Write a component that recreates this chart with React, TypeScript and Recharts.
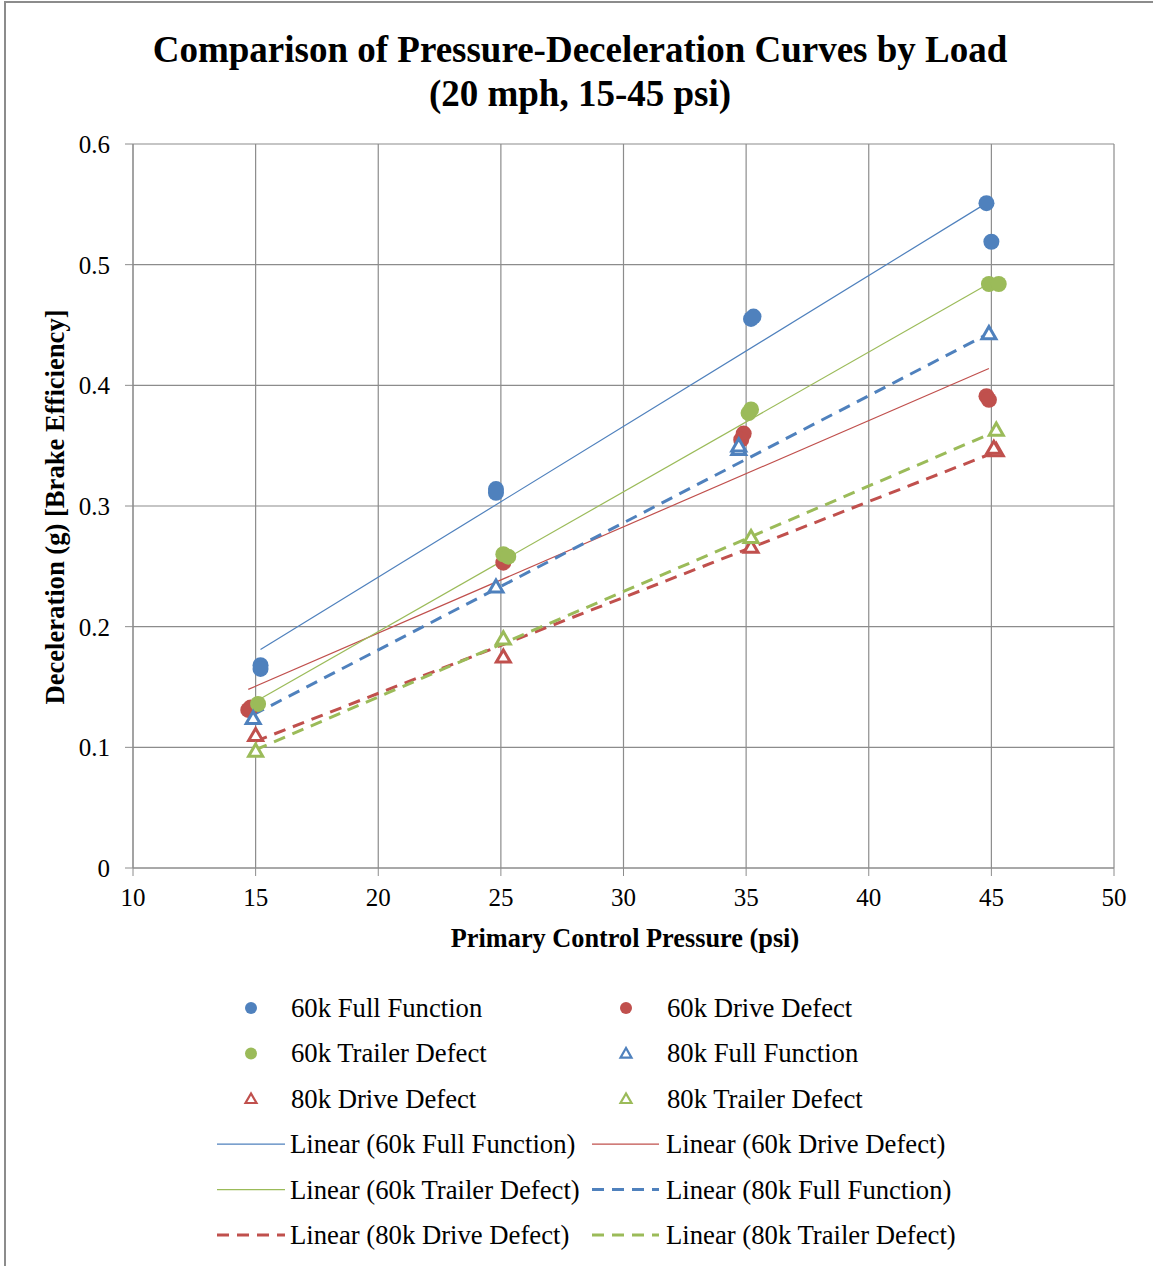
import React from 'react';
import { ScatterChart, Scatter, XAxis, YAxis, CartesianGrid } from 'recharts';

const BLUE = '#4F81BD';
const RED = '#C0504D';
const GREEN = '#9BBB59';
const GRID = '#8c8c8c';
const FONT = '"Liberation Serif", "Times New Roman", serif';

const xTicks = [10, 15, 20, 25, 30, 35, 40, 45, 50];
const yTicks = [0, 0.1, 0.2, 0.3, 0.4, 0.5, 0.6];

// measured points (psi, g)
const fullFunction60k = [
  { x: 15.2, y: 0.168 }, { x: 15.2, y: 0.165 },
  { x: 24.8, y: 0.314 }, { x: 24.8, y: 0.311 },
  { x: 35.2, y: 0.455 }, { x: 35.3, y: 0.457 },
  { x: 44.8, y: 0.551 }, { x: 45.0, y: 0.519 },
];
const driveDefect60k = [
  { x: 14.7, y: 0.131 }, { x: 14.8, y: 0.133 },
  { x: 25.1, y: 0.253 },
  { x: 34.9, y: 0.360 }, { x: 34.8, y: 0.355 },
  { x: 44.8, y: 0.391 }, { x: 44.9, y: 0.388 },
];
const trailerDefect60k = [
  { x: 15.1, y: 0.136 },
  { x: 25.1, y: 0.260 }, { x: 25.3, y: 0.258 },
  { x: 35.1, y: 0.377 }, { x: 35.2, y: 0.380 },
  { x: 44.9, y: 0.484 }, { x: 45.3, y: 0.484 },
];
const fullFunction80k = [
  { x: 14.9, y: 0.123 },
  { x: 24.8, y: 0.232 },
  { x: 34.7, y: 0.346 }, { x: 34.7, y: 0.349 },
  { x: 44.9, y: 0.442 },
];
const driveDefect80k = [
  { x: 15.0, y: 0.109 },
  { x: 25.1, y: 0.174 },
  { x: 35.2, y: 0.265 },
  { x: 45.2, y: 0.345 }, { x: 45.1, y: 0.347 },
];
const trailerDefect80k = [
  { x: 15.0, y: 0.096 },
  { x: 25.1, y: 0.189 },
  { x: 35.2, y: 0.273 },
  { x: 45.2, y: 0.362 },
];

// trendline end points
const trendFullFunction60k = [{ x: 15.2, y: 0.181 }, { x: 44.8, y: 0.551 }];
const trendDriveDefect60k = [{ x: 14.7, y: 0.148 }, { x: 44.9, y: 0.414 }];
const trendTrailerDefect60k = [{ x: 15.0, y: 0.138 }, { x: 45.3, y: 0.489 }];
const trendFullFunction80k = [{ x: 14.9, y: 0.127 }, { x: 44.9, y: 0.443 }];
const trendDriveDefect80k = [{ x: 15.0, y: 0.105 }, { x: 45.2, y: 0.345 }];
const trendTrailerDefect80k = [{ x: 15.0, y: 0.098 }, { x: 45.2, y: 0.362 }];

const pointSeries = [
  { name: '60k Full Function', data: fullFunction60k, color: BLUE, marker: 'circle' },
  { name: '60k Drive Defect', data: driveDefect60k, color: RED, marker: 'circle' },
  { name: '60k Trailer Defect', data: trailerDefect60k, color: GREEN, marker: 'circle' },
  { name: '80k Full Function', data: fullFunction80k, color: BLUE, marker: 'triangle' },
  { name: '80k Drive Defect', data: driveDefect80k, color: RED, marker: 'triangle' },
  { name: '80k Trailer Defect', data: trailerDefect80k, color: GREEN, marker: 'triangle' },
];

const trendSeries = [
  { name: 'Linear (60k Full Function)', data: trendFullFunction60k, color: BLUE, dashed: false },
  { name: 'Linear (60k Drive Defect)', data: trendDriveDefect60k, color: RED, dashed: false },
  { name: 'Linear (60k Trailer Defect)', data: trendTrailerDefect60k, color: GREEN, dashed: false },
  { name: 'Linear (80k Full Function)', data: trendFullFunction80k, color: BLUE, dashed: true },
  { name: 'Linear (80k Drive Defect)', data: trendDriveDefect80k, color: RED, dashed: true },
  { name: 'Linear (80k Trailer Defect)', data: trendTrailerDefect80k, color: GREEN, dashed: true },
];

const DASH = '12 8';

function trianglePath(cx: number, cy: number, s: number) {
  const h = s * 0.866;
  return `M${cx},${cy - (2 * h) / 3} L${cx - s / 2},${cy + h / 3} L${cx + s / 2},${cy + h / 3} Z`;
}

const makeShape = (color: string, marker: string) => (props: any) => {
  const { cx, cy } = props;
  if (cx == null || cy == null) return <g />;
  if (marker === 'circle') return <circle cx={cx} cy={cy} r={8} fill={color} />;
  return <path d={trianglePath(cx, cy, 14)} fill="#fff" stroke={color} strokeWidth={3} strokeLinejoin="miter" />;
};

const noShape = () => <g />;

function Overlay() {
  const rowY = (r: number) => 1008 + r * 45.4;
  const markerX = [251, 626];
  const textX = [291, 667];
  const lineX = [[217, 285], [592, 659]];
  const items = [
    ...pointSeries.map(s => ({ kind: 'point', ...s })),
    ...trendSeries.map(s => ({ kind: 'trend', ...s })),
  ] as any[];

  return (
    <svg width={1153} height={1266} style={{ position: 'absolute', left: 0, top: 0, pointerEvents: 'none' }}>
      <g fontFamily={FONT} fill="#000">
        <text x={580} y={49} textAnchor="middle" dominantBaseline="central" fontSize={37} fontWeight="bold">
          Comparison of Pressure-Deceleration Curves by Load
        </text>
        <text x={580} y={93} textAnchor="middle" dominantBaseline="central" fontSize={37} fontWeight="bold">
          (20 mph, 15-45 psi)
        </text>
        <text x={625} y={938} textAnchor="middle" dominantBaseline="central" fontSize={26.3} fontWeight="bold">
          Primary Control Pressure (psi)
        </text>
        <text
          x={55}
          y={507}
          textAnchor="middle"
          dominantBaseline="central"
          fontSize={26.6}
          fontWeight="bold"
          transform="rotate(-90 55 507)"
        >
          Deceleration (g) [Brake Efficiency]
        </text>

        {items.map((it, i) => {
          const col = i % 2;
          const y = rowY(Math.floor(i / 2));
          let mark;
          if (it.kind === 'point') {
            mark = it.marker === 'circle'
              ? <circle cx={markerX[col]} cy={y} r={6} fill={it.color} />
              : <path d={trianglePath(markerX[col], y + 1, 11)} fill="#fff" stroke={it.color} strokeWidth={2.2} />;
          } else {
            mark = (
              <line
                x1={lineX[col][0]}
                x2={lineX[col][1]}
                y1={y}
                y2={y}
                stroke={it.color}
                strokeWidth={it.dashed ? 3 : 1.2}
                strokeDasharray={it.dashed ? DASH : undefined}
              />
            );
          }
          return (
            <g key={it.name}>
              {mark}
              <text x={textX[col] - (it.kind === 'trend' ? 1 : 0)} y={y} dominantBaseline="central" fontSize={26.7}>
                {it.name}
              </text>
            </g>
          );
        })}
      </g>
    </svg>
  );
}

export default function App() {
  const tickStyle = { fill: '#000', fontSize: 25, fontFamily: FONT };
  return (
    <div style={{ position: 'absolute', left: 0, top: 0, width: 1153, height: 1266, overflow: 'hidden', background: '#fff' }}>
      <div
        style={{
          position: 'absolute',
          left: 4,
          top: 1,
          width: 1200,
          height: 1300,
          border: '2px solid #8c8c8c',
          boxSizing: 'border-box',
        }}
      />
      <div style={{ position: 'absolute', left: 0, top: 0 }}>
        <ScatterChart width={1153} height={1266} margin={{ top: 144, right: 39, bottom: 338, left: 53 }}>
          <CartesianGrid stroke={GRID} strokeWidth={1.2} />
          <XAxis
            type="number"
            dataKey="x"
            domain={[10, 50]}
            ticks={xTicks}
            allowDataOverflow
            height={60}
            tickSize={8}
            tickMargin={12}
            stroke={GRID}
            tick={tickStyle}
          />
          <YAxis
            type="number"
            dataKey="y"
            domain={[0, 0.6]}
            ticks={yTicks}
            allowDataOverflow
            width={80}
            tickSize={8}
            tickMargin={15}
            stroke={GRID}
            tick={tickStyle}
          />
          {trendSeries.map(t => (
            <Scatter
              key={t.name}
              name={t.name}
              data={t.data}
              line={{ stroke: t.color, strokeWidth: t.dashed ? 3 : 1.2, strokeDasharray: t.dashed ? DASH : undefined }}
              shape={noShape}
              isAnimationActive={false}
            />
          ))}
          {pointSeries.map(s => (
            <Scatter
              key={s.name}
              name={s.name}
              data={s.data}
              shape={makeShape(s.color, s.marker)}
              isAnimationActive={false}
            />
          ))}
        </ScatterChart>
      </div>
      <Overlay />
    </div>
  );
}
